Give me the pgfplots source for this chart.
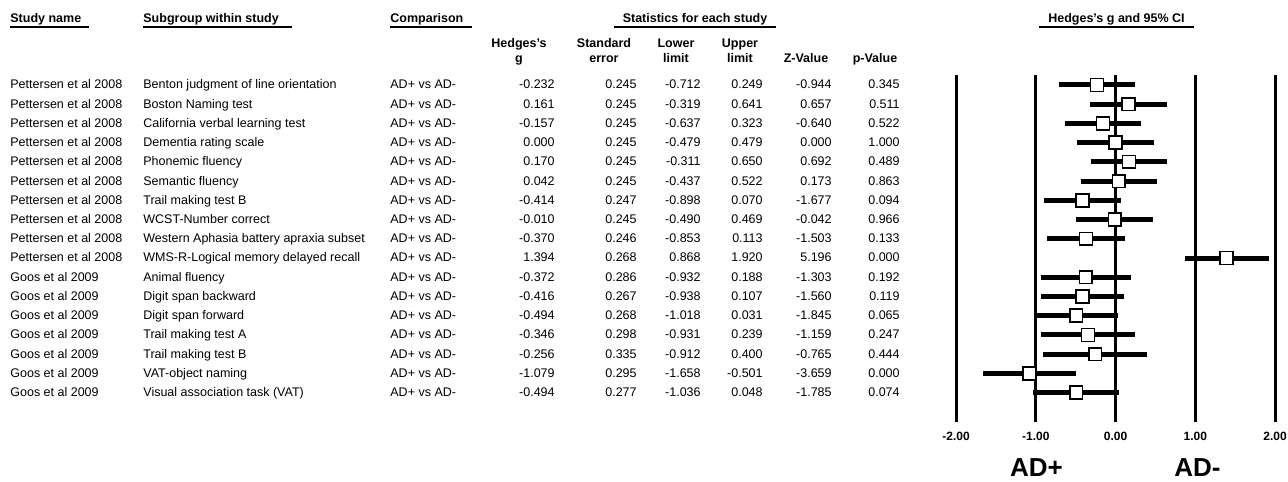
\documentclass[border=0pt]{standalone}
\usepackage{pgfplots}
\usepackage{pgfplotstable}
\pgfplotsset{compat=1.18}
\usepackage{fontspec}
\setmainfont{Liberation Sans}

\pgfplotstableread[col sep=comma]{
study,sub,g,se,lo,up,z,p
Pettersen et al 2008,Benton judgment of line orientation,-0.232,0.245,-0.712,0.249,-0.944,0.345
Pettersen et al 2008,Boston Naming test,0.161,0.245,-0.319,0.641,0.657,0.511
Pettersen et al 2008,California verbal learning test,-0.157,0.245,-0.637,0.323,-0.640,0.522
Pettersen et al 2008,Dementia rating scale,0.000,0.245,-0.479,0.479,0.000,1.000
Pettersen et al 2008,Phonemic fluency,0.170,0.245,-0.311,0.650,0.692,0.489
Pettersen et al 2008,Semantic fluency,0.042,0.245,-0.437,0.522,0.173,0.863
Pettersen et al 2008,Trail making test B,-0.414,0.247,-0.898,0.070,-1.677,0.094
Pettersen et al 2008,WCST-Number correct,-0.010,0.245,-0.490,0.469,-0.042,0.966
Pettersen et al 2008,Western Aphasia battery apraxia subset,-0.370,0.246,-0.853,0.113,-1.503,0.133
Pettersen et al 2008,WMS-R-Logical memory delayed recall,1.394,0.268,0.868,1.920,5.196,0.000
Goos et al 2009,Animal fluency,-0.372,0.286,-0.932,0.188,-1.303,0.192
Goos et al 2009,Digit span backward,-0.416,0.267,-0.938,0.107,-1.560,0.119
Goos et al 2009,Digit span forward,-0.494,0.268,-1.018,0.031,-1.845,0.065
Goos et al 2009,Trail making test A,-0.346,0.298,-0.931,0.239,-1.159,0.247
Goos et al 2009,Trail making test B,-0.256,0.335,-0.912,0.400,-0.765,0.444
Goos et al 2009,VAT-object naming,-1.079,0.295,-1.658,-0.501,-3.659,0.000
Goos et al 2009,Visual association task (VAT),-0.494,0.277,-1.036,0.048,-1.785,0.074
}\data

\begin{document}
\begin{tikzpicture}[font=\fontsize{6.25pt}{7.5pt}\selectfont]
  \path[use as bounding box] (0,0) rectangle (644pt,-240.5pt);

  % forest plot
  \begin{axis}[
    at={(478pt,-211pt)}, anchor=south west,
    scale only axis,
    width=159.5pt, height=173.5pt,
    xmin=-2, xmax=2,
    ymin=-17.53, ymax=0.52,
    xtick={-2,-1,0,1,2},
    ytick=\empty,
    xmajorgrids,
    grid style={black, line width=1.5pt},
    axis line style={draw=none},
    tick style={draw=none},
    xticklabel={\pgfmathprintnumber[fixed, fixed zerofill, precision=2]{\tick}},
    /pgf/number format/assume math mode=true,
    xticklabel style={anchor=base, yshift=-9pt, font=\fontsize{6pt}{7pt}\selectfont\bfseries},
  ]
    \addplot[draw=none, mark=none,
      error bars/.cd, x dir=both, x explicit, error mark=none,
      error bar style={black, line width=2.5pt}]
      table[x=g, y expr=-\coordindex,
        x error plus expr=\thisrow{up}-\thisrow{g},
        x error minus expr=\thisrow{g}-\thisrow{lo}] {\data};
    \addplot[only marks, mark=square*, mark size=3.2pt,
      mark options={fill=white, draw=black, line width=0.8pt}]
      table[x=g, y expr=-\coordindex] {\data};
  \end{axis}

  % table and headings, in pixel units of the reference
  \begin{scope}[x=0.5pt, y=-0.5pt]
    \begin{scope}[font=\fontsize{6.25pt}{7.5pt}\selectfont\bfseries]
      \node[anchor=base west, inner sep=0] at (10,22.5) {Study name};
      \node[anchor=base west, inner sep=0] at (143,22.5) {Subgroup within study};
      \node[anchor=base west, inner sep=0] at (390,22.5) {Comparison};
      \node[anchor=base, inner sep=0] at (695,22.5) {Statistics for each study};
      \node[anchor=base, inner sep=0] at (1116.5,22.5) {Hedges's g and 95\% CI};
      \node[anchor=base, inner sep=0] at (519,48) {Hedges's};
      \node[anchor=base, inner sep=0] at (519,62.5) {g};
      \node[anchor=base, inner sep=0] at (604,48) {Standard};
      \node[anchor=base, inner sep=0] at (604,62.5) {error};
      \node[anchor=base, inner sep=0] at (676,48) {Lower};
      \node[anchor=base, inner sep=0] at (676,62.5) {limit};
      \node[anchor=base, inner sep=0] at (740,48) {Upper};
      \node[anchor=base, inner sep=0] at (740,62.5) {limit};
      \node[anchor=base, inner sep=0] at (806,62.5) {Z-Value};
      \node[anchor=base, inner sep=0] at (875,62.5) {p-Value};
    \end{scope}
    \draw[line width=0.75pt] (10,27) -- (89,27);
    \draw[line width=0.75pt] (143,27) -- (292,27);
    \draw[line width=0.75pt] (390,27) -- (472,27);
    \draw[line width=0.75pt] (614,27) -- (776,27);
    \draw[line width=0.75pt] (1039,27) -- (1194,27);

    \foreach \i in {0,...,16} {
      \pgfmathsetmacro\yy{89+19.22*\i}
      \pgfplotstablegetelem{\i}{study}\of\data
      \node[anchor=base west, inner sep=0] at (10,\yy) {\pgfplotsretval};
      \pgfplotstablegetelem{\i}{sub}\of\data
      \node[anchor=base west, inner sep=0] at (143,\yy) {\pgfplotsretval};
      \node[anchor=base west, inner sep=0] at (390,\yy) {AD+ vs AD-};
      \pgfplotstablegetelem{\i}{g}\of\data
      \node[anchor=base east, inner sep=0] at (555,\yy) {\pgfplotsretval};
      \pgfplotstablegetelem{\i}{se}\of\data
      \node[anchor=base east, inner sep=0] at (637,\yy) {\pgfplotsretval};
      \pgfplotstablegetelem{\i}{lo}\of\data
      \node[anchor=base east, inner sep=0] at (701,\yy) {\pgfplotsretval};
      \pgfplotstablegetelem{\i}{up}\of\data
      \node[anchor=base east, inner sep=0] at (763,\yy) {\pgfplotsretval};
      \pgfplotstablegetelem{\i}{z}\of\data
      \node[anchor=base east, inner sep=0] at (832,\yy) {\pgfplotsretval};
      \pgfplotstablegetelem{\i}{p}\of\data
      \node[anchor=base east, inner sep=0] at (900,\yy) {\pgfplotsretval};
    }

    \node[anchor=base, inner sep=0, font=\fontsize{13pt}{15pt}\selectfont\bfseries] at (1036.5,476) {AD+};
    \node[anchor=base, inner sep=0, font=\fontsize{13pt}{15pt}\selectfont\bfseries] at (1197.5,476) {AD-};
  \end{scope}
\end{tikzpicture}
\end{document}
